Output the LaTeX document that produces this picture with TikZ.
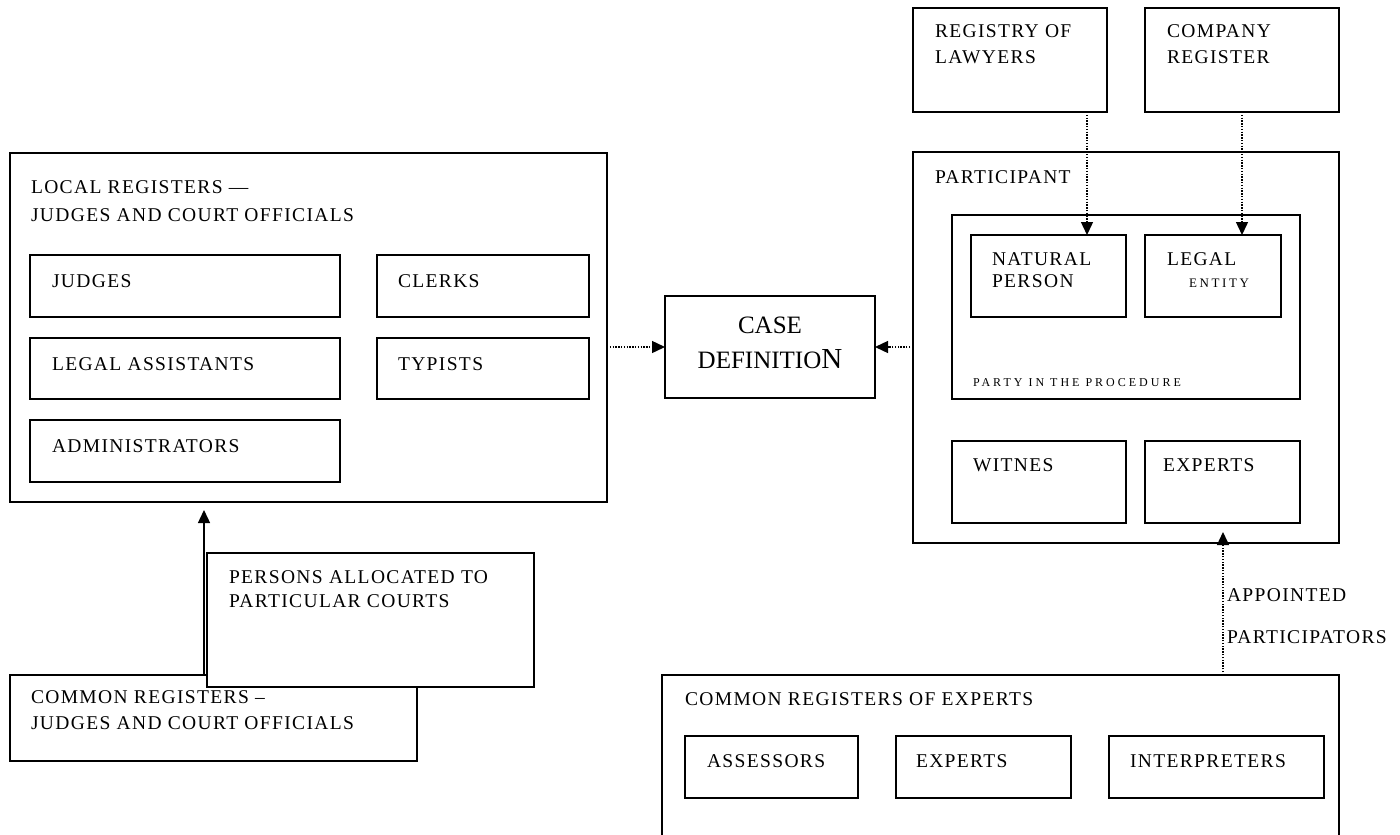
\documentclass[tikz,border=0pt]{standalone}
\usepackage{fontspec}
\setmainfont{Liberation Serif}
\usetikzlibrary{arrows.meta,calc}
\newcommand\ft{\fontsize{19.5}{26}\selectfont\addfontfeature{LetterSpace=7}}
\newcommand\fsmall{\fontsize{12}{14}\selectfont\addfontfeature{LetterSpace=25}}
\newcommand\fcase{\fontsize{25}{35}\selectfont}
\begin{document}
\begin{tikzpicture}[x=1pt,y=-1pt,
  bx/.style={draw, line width=1.4pt, fill=white, inner sep=0pt, outer sep=0pt, anchor=north west},
  txt/.style={anchor=base west, inner sep=0pt, outer sep=0pt, align=left, font=\ft},
  dotarrow/.style={line width=1.4pt, dash pattern=on 1.4pt off 1.4pt, -{Triangle[length=13pt,width=12pt]}},
  solidarrow/.style={line width=1.4pt, -{Triangle[length=13pt,width=12pt]}}]
\useasboundingbox (0,0) rectangle (1400,835);
\clip (0,0) rectangle (1400,835);
% ---------- top right registers ----------
\node[bx, minimum width=194pt, minimum height=104pt] (reg) at (913,8) {};
\node[txt] (reg-t) at (935,63) {REGISTRY OF\\LAWYERS};
\node[bx, minimum width=194pt, minimum height=104pt] (comp) at (1145,8) {};
\node[txt] (comp-t) at (1167,63) {COMPANY\\REGISTER};
% ---------- participant ----------
\node[bx, minimum width=426pt, minimum height=391pt] (part) at (913,152) {};
\node[txt] (part-t) at (935,183) {PARTICIPANT};
\node[bx, minimum width=348pt, minimum height=184pt] (party) at (952,215) {};
\node[txt, font=\fsmall] (party-t) at (973,386) {PARTY IN THE PROCEDURE};
\node[bx, minimum width=155pt, minimum height=82pt] (nat) at (971,235) {};
\node[txt, font=\fontsize{19.5}{22}\selectfont\addfontfeature{LetterSpace=7}] (nat-t) at (992,287) {NATURAL\\PERSON};
\node[bx, minimum width=136pt, minimum height=82pt] (leg) at (1145,235) {};
\node[txt] (leg-t) at (1167,265) {LEGAL};
\node[txt, font=\fontsize{13}{15}\selectfont\addfontfeature{LetterSpace=20}] (leg-t2) at (1189,287) {ENTITY};
\node[bx, minimum width=174pt, minimum height=82pt] (wit) at (952,441) {};
\node[txt] (wit-t) at (973,471) {WITNES};
\node[bx, minimum width=155pt, minimum height=82pt] (exq) at (1145,441) {};
\node[txt] (exq-t) at (1163,471) {EXPERTS};
% ---------- case definition ----------
\node[bx, minimum width=210pt, minimum height=102pt] (case) at (665,296) {};
\node[anchor=base, inner sep=0pt, align=center, font=\fcase] (case-t) at (770,368) {CASE\\DEFINITIO\fontsize{29}{35}\selectfont N};
% ---------- local registers ----------
\node[bx, minimum width=597pt, minimum height=349pt] (local) at (10,153) {};
\node[txt, font=\fontsize{19.5}{28}\selectfont\addfontfeature{LetterSpace=7}] (local-t) at (31,221) {LOCAL REGISTERS ---\\JUDGES AND COURT OFFICIALS};
\node[bx, minimum width=310pt, minimum height=62pt] (judges) at (30,255) {};
\node[txt] (judges-t) at (52,287) {JUDGES};
\node[bx, minimum width=212pt, minimum height=62pt] (clerks) at (377,255) {};
\node[txt] (clerks-t) at (398,287) {CLERKS};
\node[bx, minimum width=310pt, minimum height=61pt] (legal) at (30,338) {};
\node[txt] (legal-t) at (52,370) {LEGAL ASSISTANTS};
\node[bx, minimum width=212pt, minimum height=61pt] (typ) at (377,338) {};
\node[txt] (typ-t) at (398,370) {TYPISTS};
\node[bx, minimum width=310pt, minimum height=62pt] (admin) at (30,420) {};
\node[txt] (admin-t) at (52,452) {ADMINISTRATORS};
% ---------- common registers (left) ----------
\node[bx, minimum width=407pt, minimum height=86pt] (common) at (10,675) {};
\node[txt, font=\fontsize{19.5}{26}\selectfont\addfontfeature{LetterSpace=7}] (common-t) at (31,729) {COMMON REGISTERS --\\JUDGES AND COURT OFFICIALS};
\node[bx, minimum width=327pt, minimum height=134pt] (persons) at (207,553) {};
\node[txt, font=\fontsize{19.5}{24}\selectfont\addfontfeature{LetterSpace=7}] (persons-t) at (229,607) {PERSONS ALLOCATED TO\\PARTICULAR COURTS};
% ---------- common registers of experts ----------
\node[bx, minimum width=677pt, minimum height=200pt] (cre) at (662,675) {};
\node[txt] (cre-t) at (685,705) {COMMON REGISTERS OF EXPERTS};
\node[bx, minimum width=173pt, minimum height=62pt] (ass) at (685,736) {};
\node[txt] (ass-t) at (707,767) {ASSESSORS};
\node[bx, minimum width=175pt, minimum height=62pt] (expx) at (896,736) {};
\node[txt] (expx-t) at (916,767) {EXPERTS};
\node[bx, minimum width=215pt, minimum height=62pt] (interp) at (1109,736) {};
\node[txt] (interp-t) at (1130,767) {INTERPRETERS};
% ---------- connectors ----------
\draw[dotarrow] (local.east |- case.west) -- (case.west);
\draw[dotarrow] (part.west |- case.east) -- (case.east);
\draw[dotarrow] ([xshift=-20pt]reg.south east) -- ([xshift=-20pt]reg.south east |- nat.north);
\draw[dotarrow] ([xshift=-97pt]comp.south east) -- ([xshift=-97pt]comp.south east |- leg.north);
\draw[dotarrow] ([xshift=-116pt]cre.north east) -- ([xshift=-116pt,yshift=11pt]cre.north east |- part.south);
\draw[solidarrow, shorten >=8pt] ([xshift=-3pt]persons.west |- common.north) -- ([xshift=-3pt]persons.west |- local.south);
\node[txt, font=\fontsize{19.5}{42}\selectfont\addfontfeature{LetterSpace=7}] (appt) at (1227,643) {APPOINTED\\PARTICIPATORS};
\end{tikzpicture}
\end{document}
